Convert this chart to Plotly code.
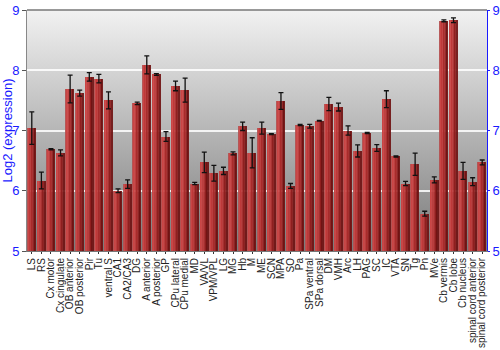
import plotly.graph_objects as go
import urllib.parse

categories = ["LS", "RS", "Cx motor", "Cx cingulate", "OB anterior", "OB posterior", "Pir", "Tu",
              "ventral S", "CA1", "CA2/CA3", "DG", "A anterior", "A posterior", "GP", "CPu lateral",
              "CPu medial", "MD", "VA/VL", "VPM/VPL", "LG", "MG", "Hb", "M", "ME", "SCN", "MPA", "SO",
              "Pa", "SPa ventral", "SPa dorsal", "DM", "VMH", "Arc", "LH", "PAG", "SC", "IC", "VTA",
              "SN", "Tg", "Pn", "MVe", "Cb vermis", "Cb lobe", "Cb nucleus", "spinal cord anterior",
              "spinal cord posterior"]
values = [7.04, 6.17, 6.69, 6.63, 7.69, 7.62, 7.89, 7.86, 7.50, 6.00, 6.11, 7.45, 8.09, 7.93, 6.90,
          7.74, 7.67, 6.12, 6.47, 6.29, 6.33, 6.62, 7.07, 6.63, 7.04, 6.94, 7.49, 6.08, 7.09, 7.07,
          7.16, 7.44, 7.39, 7.00, 6.66, 6.96, 6.71, 7.52, 6.57, 6.12, 6.44, 5.62, 6.18, 8.82, 8.83,
          6.33, 6.15, 6.47]
errors = [0.27, 0.14, 0.01, 0.05, 0.23, 0.05, 0.07, 0.07, 0.14, 0.03, 0.07, 0.02, 0.15, 0.015, 0.08,
          0.08, 0.20, 0.02, 0.17, 0.13, 0.06, 0.025, 0.07, 0.25, 0.10, 0.006, 0.14, 0.04, 0.01, 0.03,
          0.006, 0.11, 0.066, 0.077, 0.10, 0.01, 0.055, 0.14, 0.01, 0.035, 0.185, 0.04, 0.05, 0.015,
          0.04, 0.14, 0.066, 0.04]
y_ticks = [5, 6, 7, 8, 9]

blue = "#1a1aff"
font_family = "Liberation Sans, Arial, sans-serif"

# cylinder-like shading: strips across each bar (left -> right)
strips = [("#b55050", 0.07), ("#cc4444", 0.20), ("#bd3838", 0.20), ("#a82a2a", 0.18),
          ("#8e1e1e", 0.17), ("#701212", 0.18)]
bar_w = 0.88

fig = go.Figure()
left = -bar_w / 2
for color, frac in strips:
    w = bar_w * frac
    fig.add_trace(go.Bar(x=categories, y=[v - 5 for v in values], base=5, width=w, offset=left,
                         marker=dict(color=color, line=dict(width=0)), opacity=0.92,
                         hoverinfo="skip", showlegend=False))
    left += w

fig.add_trace(go.Scatter(x=categories, y=values, mode="markers", marker=dict(size=0.1, opacity=0),
                         error_y=dict(type="data", array=errors, color="#111111", thickness=1.3, width=2.5),
                         showlegend=False, hoverinfo="skip"))
# invisible trace for right axis
fig.add_trace(go.Scatter(x=categories[:1], y=[5], yaxis="y2", mode="markers",
                         marker=dict(opacity=0), showlegend=False, hoverinfo="skip"))

svg = ("<svg xmlns='http://www.w3.org/2000/svg' width='100' height='100' preserveAspectRatio='none'>"
       "<defs><linearGradient id='g' x1='0' y1='0' x2='0' y2='1'>"
       "<stop offset='0' stop-color='#f2f2f2'/><stop offset='1' stop-color='#7a7a7a'/>"
       "</linearGradient></defs><rect width='100' height='100' fill='url(#g)'/></svg>")
src = "data:image/svg+xml;charset=utf-8," + urllib.parse.quote(svg)

fig.update_layout(
    width=500, height=350,
    margin=dict(l=27, r=13, t=10, b=99, autoexpand=False),
    paper_bgcolor="white", plot_bgcolor="#bbbbbb",
    barmode="overlay", bargap=0,
    font=dict(family=font_family),
    images=[dict(source=src, xref="paper", yref="paper", x=0, y=1, sizex=1, sizey=1,
                 sizing="stretch", layer="below", xanchor="left", yanchor="top")],
    xaxis=dict(tickangle=-90, tickfont=dict(size=10, color="#222222", family=font_family),
               tickmode="array", tickvals=categories, ticktext=categories, automargin=False,
               ticks="outside", ticklen=2, tickcolor="#333333", showgrid=False,
               showline=True, linecolor="#777777", mirror=False, range=[-0.5, len(categories) - 0.5]),
    yaxis=dict(range=[5, 9], tickvals=y_ticks, tickfont=dict(size=13, color=blue),
               ticks="outside", ticklen=4, tickcolor="#555555", automargin=False,
               showgrid=True, gridcolor="rgba(255,255,255,0.85)", gridwidth=2,
               showline=True, linecolor="#888888", zeroline=False,
               title=dict(text="Log2 (expression)", font=dict(size=13, color=blue), standoff=4)),
    yaxis2=dict(range=[5, 9], tickvals=y_ticks, overlaying="y", side="right", automargin=False,
                tickfont=dict(size=13, color=blue), ticks="outside", ticklen=2, tickcolor=blue,
                ticklabelstandoff=0,
                showline=True, linecolor=blue, showgrid=False, zeroline=False),
    shapes=[dict(type="line", xref="paper", yref="paper", x0=0, x1=1, y0=1, y1=1,
                 line=dict(color="#777777", width=1.5))],
)

fig.write_html("out.html")
